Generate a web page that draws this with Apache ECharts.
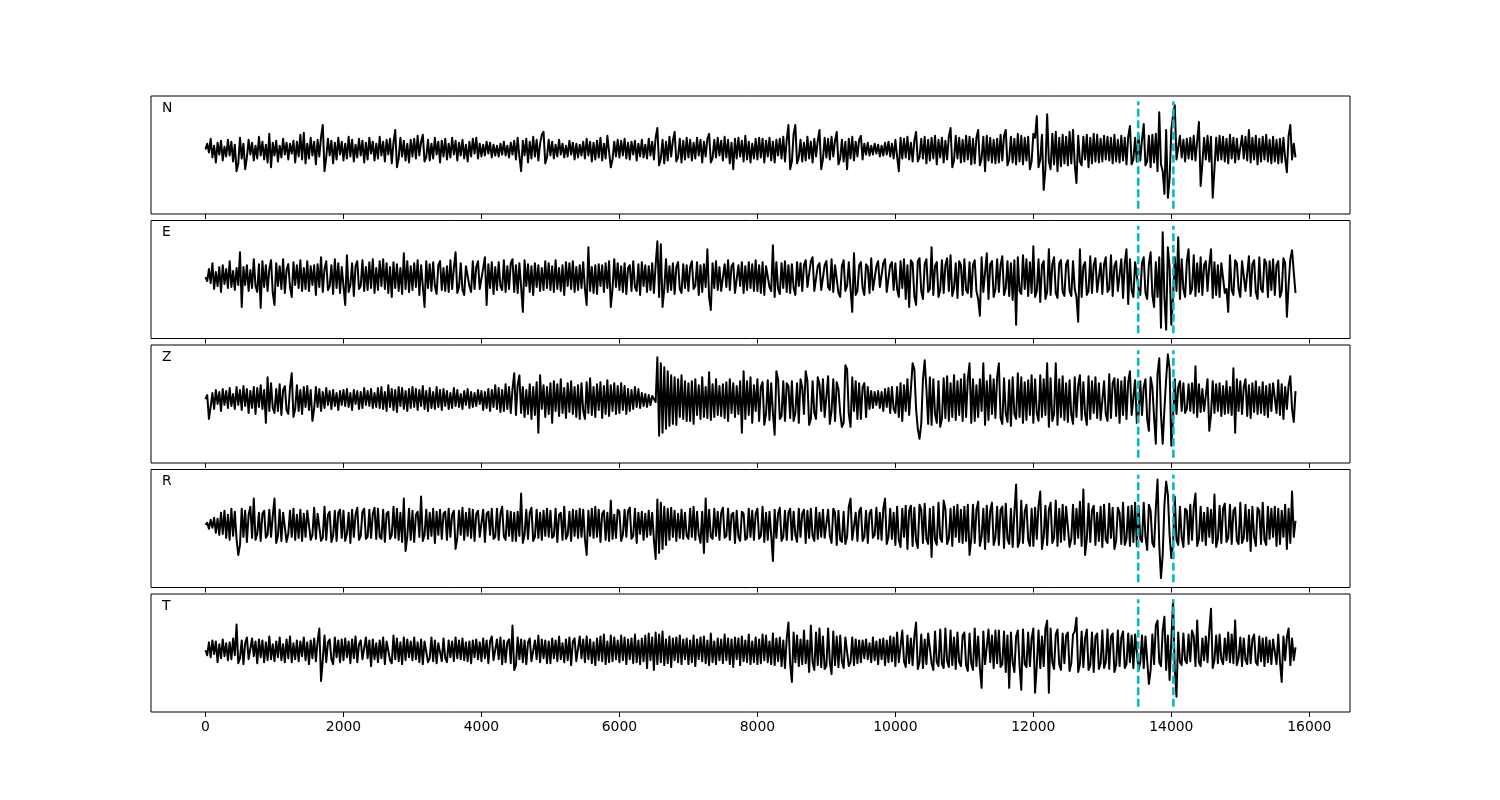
<!DOCTYPE html>
<html>
<head>
<meta charset="utf-8">
<script src="https://cdn.jsdelivr.net/npm/echarts@6/dist/echarts.min.js"></script>
<style>
html,body{margin:0;padding:0;background:#fff;}
#chart{width:1500px;height:800px;}
</style>
</head>
<body>
<div id="chart"></div>
<script>
// sample spacing of the traces (x units)
const STEP = 25;
const components = ['N', 'E', 'Z', 'R', 'T'];
const pickTimes = [13520, 14030];
const xTicks = [0, 2000, 4000, 6000, 8000, 10000, 12000, 14000, 16000];
// vertical extent of pick lines per component (trace units)
const pickHi = [49, 51.5, 49, 49.6, 51.5];
const pickLo = [-60, -56.4, -59, -57, -57];

const traceN = [
0,6,-3,11,-8,4,-13,7,-5,9,-11,3,-7,10,-6,8,-12,5,-22,-14,
12,-9,6,-20,-8,10,-5,7,-11,4,-9,13,-6,8,-10,5,-13,16,-18,7,
-6,9,-12,4,-8,11,-5,7,-10,6,-4,9,-13,8,-7,15,-10,17,-14,6,
-9,12,-6,8,-15,10,-7,13,25,-22,-8,11,-6,9,-14,7,-10,12,-5,8,
-11,6,-9,13,-7,10,-12,5,-8,11,-6,9,-13,7,-10,12,-4,8,-11,6,
-9,13,-6,8,-12,10,-5,11,-14,7,20,-18,-9,12,-7,9,-11,6,-13,10,
-7,11,-9,14,-6,8,15,-12,-8,10,-11,6,-9,12,-5,8,-13,9,-7,11,
-10,6,-8,12,-5,9,-11,7,-6,10,-9,5,-12,8,-7,11,-4,12,-9,6,
-7,5,-6,8,-4,7,-8,5,-6,4,-7,6,-5,8,-6,4,-8,7,-5,9,
-10,12,-7,-22,9,-6,11,-13,8,-9,13,-7,10,-11,6,15,18,-14,-8,10,
-6,8,-9,5,-7,10,-5,6,-8,4,-7,9,-5,7,-10,6,-8,5,-6,8,
-9,11,-6,8,-12,7,-10,9,-8,12,-11,6,-9,14,14,-18,-10,8,-7,10,
-8,9,-6,11,-9,7,-10,8,-5,9,-11,6,-7,10,-8,5,-9,11,-6,8,
-10,12,22,-16,-9,10,-14,8,-11,13,-7,9,18,-12,-8,11,-13,9,-10,12,
-8,10,-11,7,-9,12,-6,10,-13,8,-7,11,16,-13,-9,10,-8,12,-6,9,
-11,13,-8,10,-14,7,-20,11,-9,12,-7,9,-12,14,-10,8,-13,6,-9,11,
-10,12,-8,11,-13,9,-7,12,-11,8,-13,10,-6,11,-9,13,-12,10,25,-20,
-12,16,25,-14,-8,10,-12,7,-11,13,-9,8,-13,11,-7,9,20,-20,-10,12,
-8,11,-10,13,-7,9,18,-15,-9,10,-12,8,-20,11,-9,13,-11,8,-7,10,
14,-10,6,-5,7,-6,4,-5,6,-4,5,-7,4,-6,7,-5,8,-7,6,-9,
10,-7,-22,12,-9,11,-8,13,-10,7,-12,9,18,-12,-8,11,-9,13,-14,10,
-11,12,-9,14,-15,10,-8,12,-13,9,-10,13,22,-18,-11,14,-9,12,-13,10,
-12,14,-10,13,-15,11,-14,12,20,-16,-9,13,-22,14,-11,12,-13,10,-14,11,
-13,15,-11,14,20,-16,-10,13,-13,11,-15,16,-12,14,-15,12,-11,13,-20,-12,
16,12,34,-18,-10,15,-41,-20,36,-12,-20,16,-15,18,-22,12,-17,15,-14,13,
-16,18,-14,20,-15,-34,14,-12,-16,13,-10,15,-18,12,-14,16,-12,15,-13,11,
-12,14,-10,13,-11,12,-14,15,-12,10,-13,14,-11,12,-15,13,24,-15,-10,12,
-12,14,-11,10,26,-16,-12,14,-18,15,-13,16,-22,38,-15,-22,-45,20,-49,-30,
20,35,45,-10,-12,14,-8,10,-12,11,-9,12,-10,14,-11,9,28,-37,-14,12,
-10,14,-12,13,-49,-20,12,-11,14,-10,13,-12,11,-14,15,-9,12,-13,11,-10,
-12,14,-9,13,-11,20,-13,12,-10,14,-15,11,-12,13,-10,15,-12,10,-14,13,
-12,10,-14,11,-13,12,-9,-23,14,25,-10,6,-8
];

const traceE = [
0,-4,8,-6,14,-12,5,-9,10,-15,12,-7,8,-11,16,-10,6,-13,9,-8,
25,-30,10,-8,12,-14,7,-11,18,-9,-15,13,-31,16,-10,12,-14,8,17,-16,
-28,14,-9,11,-12,18,-16,7,13,-10,-20,15,-8,12,-11,17,-14,9,-12,16,
-14,11,-8,12,-18,13,-10,20,-15,8,16,-13,-9,12,-17,18,-11,14,-16,10,
12,-28,22,-15,-8,14,-19,11,16,-12,-9,17,-14,10,-13,15,-11,18,-16,9,
-13,16,-9,18,-12,14,-16,10,-20,15,-11,13,-14,9,-17,24,-12,16,-15,11,
-13,14,-10,17,-18,12,-9,-30,16,-11,13,-14,15,-9,-17,12,16,-13,9,-14,
11,-15,17,-12,9,25,-16,-10,14,-13,-18,11,13,-9,-15,16,-12,10,16,-12,
-14,9,20,-28,13,-11,15,-17,10,-13,15,-9,-13,17,-15,11,-12,14,18,-15,
12,-16,14,-10,-35,17,-9,13,-15,11,-18,14,-10,12,-14,9,-13,16,-11,14,
-13,11,-15,17,-12,9,-14,12,-18,15,-9,14,-12,16,-15,10,-13,12,-11,15,
-12,-28,30,-14,10,-16,12,-17,13,-9,12,-15,14,-11,16,-30,-12,18,-10,14,
-13,11,-15,14,-17,9,12,-14,16,-10,-14,13,-18,15,-9,12,-15,11,-13,14,
-16,12,36,-20,33,-30,-12,18,-15,11,-13,14,-17,10,15,-12,-16,13,-11,12,
-14,10,16,-12,-9,15,-18,12,-15,13,-10,28,-20,-33,14,-11,16,-13,10,-14,
-15,13,-10,17,-13,11,14,-16,-18,12,-9,15,-16,11,-13,15,-11,13,-14,17,
-14,12,-16,15,-18,11,13,-10,-14,32,-20,15,-12,-17,14,-11,16,-15,12,-16,
13,-11,-18,15,-9,14,-14,12,17,-10,-12,16,20,-14,-16,11,14,-13,-15,12,
16,-10,-13,18,-15,12,14,-16,-20,11,17,-14,-9,15,-12,-35,24,-18,-14,12,
15,-11,-18,13,10,-16,19,-13,-14,11,16,-10,-12,14,18,-15,-17,12,15,-13,
14,-12,-20,16,-11,18,-22,12,-30,17,14,-19,-28,16,19,-14,-22,13,18,-15,
-12,30,-18,11,15,-20,-13,17,-16,12,19,-14,22,-19,-11,14,-21,16,12,-18,
18,-13,-16,15,-20,12,17,-14,-22,-39,20,-15,-17,24,-22,13,16,-20,-12,18,
-15,12,21,-18,-11,16,-19,14,-23,17,-48,20,-14,-17,22,-12,18,-19,15,-16,
31,-20,-14,18,-25,12,16,-22,-15,28,-18,13,20,-16,-21,14,17,-15,-19,13,
17,-14,-19,16,-12,-20,-45,28,-20,11,15,-18,-14,21,-16,12,19,-15,-17,14,
-17,13,20,-15,-12,22,-19,11,16,-14,-13,18,-21,14,28,-27,18,-13,-20,15,
15,-12,-18,14,20,-16,-22,13,25,-18,-30,15,-20,20,-51,45,-20,-53,30,10,
-48,-20,20,-14,40,-22,18,-12,-20,16,28,-17,-12,22,-19,14,-15,20,-18,12,
16,-14,12,28,-21,15,-18,12,-20,14,15,-16,-12,-35,22,-13,-18,17,14,-12,
-20,16,18,-14,-16,21,-19,13,17,-15,-22,20,-12,-15,18,14,-20,16,-13,18,
-18,12,16,-20,-14,19,14,-40,-8,18,27,5,-16
];

const traceZ = [
0,4,-20,-8,6,-10,9,-5,7,-12,10,-6,8,-9,11,-7,5,-10,12,-6,
9,-11,13,-7,10,-14,8,-9,12,-15,11,-8,14,-10,9,-24,22,-12,16,-9,
-14,10,-12,15,-16,9,13,-11,-15,12,26,-18,-10,14,-12,9,-15,12,-8,13,
-11,9,-22,-10,12,-8,10,-12,7,-9,11,-6,8,-10,9,-7,6,-11,8,-6,
9,-7,10,-8,6,-11,9,-5,8,-10,7,-9,11,-6,8,-7,10,-9,6,-8,
11,-9,12,-10,7,-12,14,-8,10,-11,9,-13,12,-7,11,-10,8,-12,10,-9,
12,-8,10,-11,9,-7,13,-10,8,-12,11,-9,7,-10,12,-8,9,-11,10,-7,
8,-10,6,-9,11,-7,9,-8,5,-10,8,-6,10,-9,7,-8,6,-7,9,-5,
8,-11,7,-9,10,-12,9,-8,14,-10,11,-13,9,-12,15,-10,12,-14,10,26,
-16,14,24,-14,12,-18,9,-15,15,-20,12,-16,17,-34,24,-10,14,-18,12,-15,
16,-24,18,-12,15,-17,20,-14,11,-19,16,-13,18,-15,12,-18,14,-20,16,-12,
-20,17,-14,21,-16,12,-18,15,-11,17,-19,13,-15,19,-17,14,-12,16,-15,13,
-14,16,-11,13,-15,10,-12,9,-10,12,-8,10,-9,6,-7,5,-8,4,-6,3,
4,-3,42,-37,36,-34,32,-30,28,-27,24,-25,22,-26,20,-18,24,-20,18,-22,
16,-22,18,-25,20,-16,14,-20,22,-18,12,-19,27,-21,15,-18,20,-16,13,-17,
15,-19,17,-22,20,-14,16,-18,13,-15,18,-34,28,-20,18,-16,22,-24,14,-12,
20,-22,12,17,-26,-15,19,-21,16,-14,-36,28,20,-20,-17,18,-22,16,13,-19,
18,-22,-14,16,-24,20,12,-15,28,18,-26,-20,18,-14,-20,22,15,-12,20,-18,
-18,23,-25,-12,20,-22,17,10,-14,-28,-24,34,30,-15,-28,22,-12,18,-20,16,
-20,12,16,-18,12,-10,8,-9,7,-6,8,-9,7,-12,10,-8,11,-14,12,-10,
-14,12,-18,16,-22,14,-12,20,-16,10,36,30,-10,-30,-40,-25,20,39,10,-25,
22,-26,20,-15,-24,18,-28,-20,21,-19,23,-22,16,-18,24,-21,18,-16,20,-22,
25,-18,20,36,-24,20,-22,14,-18,20,-12,36,-26,18,-21,24,-15,20,-19,22,
36,-19,-25,21,-14,-23,19,-27,22,-15,-20,26,-18,22,-24,17,-21,19,-16,24,
-24,20,-14,-22,24,-18,20,-16,36,-28,21,-22,-15,36,-26,20,-18,23,-21,16,
-23,19,-16,-25,22,-18,14,24,-21,17,-15,-26,23,-20,18,-14,22,-19,16,-21,
-20,18,-15,-22,25,-19,16,21,-17,20,-24,18,-16,22,-20,17,28,-16,-14,19,
-24,-16,18,-16,12,20,-20,-32,22,12,-18,-45,25,41,-15,-45,-10,20,45,30,
-47,-20,20,-15,12,18,-12,16,-14,-10,15,-12,16,-14,33,-18,15,-13,10,-12,
-13,20,-32,-16,18,-14,15,-12,16,-17,13,-15,18,-14,12,-16,31,-34,20,-12,
18,-15,12,20,-17,14,-19,16,-13,18,-15,12,-14,17,-16,13,-18,15,-12,16,
17,-14,19,-16,15,-20,12,-10,14,23,-10,-23,8
];

const traceR = [
0,2,-4,5,-3,7,-8,6,-10,12,-9,14,-13,10,-15,16,-11,13,-14,-30,
-20,16,-12,14,-17,10,18,-13,26,-15,-9,12,-16,11,14,-13,-10,15,-12,9,
26,-18,-11,15,-16,12,13,-17,-9,14,-12,16,-15,10,-13,15,-16,11,-12,14,
13,-15,-10,17,-14,11,12,-16,-13,18,-15,10,13,-17,-11,14,-16,12,15,-13,
14,-16,-9,12,-18,15,-12,10,17,-15,-11,13,16,-14,-12,15,-13,11,17,-14,
16,-12,-14,15,-17,11,13,-14,-10,18,-13,16,-15,12,-17,26,-26,-12,16,-15,
14,-17,10,13,-12,28,-16,-10,15,-14,12,-11,16,-18,13,-10,15,-14,11,13,
-15,16,-12,10,14,-24,-13,14,-10,17,-15,12,-11,16,-13,15,-16,11,14,-12,
-13,15,-17,11,13,-10,16,-14,-12,16,-15,11,18,-12,-15,14,-11,13,-16,12,
-16,13,-11,31,-18,-10,15,-14,12,17,-16,-12,15,-13,12,-15,14,-11,16,-12,
14,-13,-11,16,-17,10,12,-15,18,-14,-10,13,-16,15,-11,14,-13,16,-12,15,
-14,-30,14,-11,16,-13,18,-12,15,-17,11,14,-15,12,-16,24,-14,10,-13,15,
13,-16,-10,15,-12,14,17,-14,-11,16,-18,12,-9,13,-15,11,-12,14,-10,12,
-15,-34,25,-28,22,-24,18,-20,16,-15,17,-12,14,-16,11,-13,15,-14,12,-11,
-14,16,-12,18,-15,13,-10,-18,13,-28,26,-17,15,-12,-14,16,-11,13,-15,12,
17,-13,-11,16,-15,10,12,-18,14,-12,-16,13,11,-15,-13,16,-12,14,-15,11,
16,-14,-11,18,-17,12,-15,13,-10,-36,15,-13,11,17,-16,-12,14,-15,12,16,
-15,13,-10,-17,16,-12,11,15,-18,14,-13,16,-11,-16,17,-14,12,-12,15,-13,
-13,15,-11,-18,16,12,-20,14,-15,-17,13,-19,-12,18,26,-15,-14,12,-16,13,
17,-16,-12,14,-18,11,15,-13,-10,17,-14,12,-15,16,26,-19,-12,16,-14,12,
-20,18,-15,-22,16,-12,19,-24,14,19,-21,17,-16,-23,20,15,-18,21,-14,-19,
16,-32,18,-15,-20,22,-13,-17,24,16,-19,-14,16,-21,18,-12,20,-17,15,-18,
18,-16,20,-30,-14,20,-18,15,23,-21,-12,16,-24,19,-17,14,22,-20,-13,18,
-20,15,18,-23,21,-14,-19,16,-22,12,40,-22,-16,24,-18,13,20,-15,-21,16,
-21,17,-14,19,33,-24,-12,19,-20,15,22,-18,-13,24,-21,16,-17,20,-15,18,
18,-22,-14,20,-19,16,-13,23,-21,35,-30,-14,21,-17,14,19,-20,12,-16,18,
-22,20,-15,-18,21,-13,17,-24,-16,17,12,-19,22,-20,-14,18,-21,19,-17,22,
-21,19,-14,-17,22,-12,-25,20,14,-18,-22,16,45,-20,-53,-30,20,43,30,-10,
-33,-20,28,-15,-20,18,-12,-22,16,14,-19,20,-15,18,31,-21,-14,18,-16,12,
-20,17,-12,15,-18,30,-22,-14,19,-18,16,21,-17,-13,20,-19,14,17,-16,-19,
22,-18,-13,20,-16,15,-26,18,-12,-21,17,14,-19,22,-15,-20,18,-14,16,-12,
18,-21,16,-19,14,-12,20,-24,16,-18,33,-12,4
];

const traceT = [
0,-5,8,-7,10,-4,9,-12,6,-8,11,-6,7,-10,8,-9,12,-5,26,-13,
-8,10,-14,7,13,-9,-11,12,-6,9,-13,11,-7,10,-12,8,-10,14,-9,6,
-11,9,-7,13,-10,6,-12,11,-8,14,-12,7,-9,10,-11,9,-6,13,-10,8,
-14,10,-8,12,-11,9,22,-31,-10,15,-12,8,11,-9,-14,13,-7,10,-12,11,
-10,12,-7,9,-13,11,-8,14,-12,6,10,-9,-11,13,-8,10,-16,11,-9,7,
-12,10,-8,13,-14,9,11,-10,-13,15,-9,12,-11,8,-14,13,-10,11,-7,9,
-10,13,-9,8,-12,11,-14,9,10,-12,-8,13,-11,10,-13,7,9,-11,12,-8,
-12,10,-7,9,-11,13,-8,10,-9,12,-10,8,-11,9,-13,10,-7,11,-9,8,
-11,12,-8,10,-13,9,14,-10,-12,11,-9,13,-14,10,-12,8,11,-13,25,-20,
-15,13,-9,11,-12,10,-14,8,12,-11,-13,10,-9,15,-12,11,-8,10,-13,9,
-13,12,-8,10,-11,14,-9,7,-12,11,-10,13,-15,9,12,-11,-10,14,-8,11,
-12,14,-9,11,-13,8,-15,12,-10,14,-11,16,-14,9,-12,15,-11,13,-9,10,
-12,15,-10,13,-14,11,-9,12,-13,16,-12,10,-14,12,-11,15,-18,17,-10,13,
-20,18,-14,16,-12,19,-15,11,-13,14,-17,12,-10,13,-12,15,-14,11,-9,12,
-14,10,-12,15,-16,11,-9,13,-11,14,-13,10,-15,17,-12,9,-14,12,-10,11,
-13,16,-10,12,-14,11,-17,13,-9,12,-15,14,-11,10,-12,16,-14,9,-12,13,
-14,11,-13,16,-10,15,-12,9,-14,17,-15,12,-11,13,-16,10,-18,12,28,-14,
-32,18,-12,15,-16,11,-14,20,-13,10,-22,25,-12,-20,18,-15,22,-17,14,-19,
-16,22,-12,-24,19,-15,14,-17,15,-11,-18,13,14,-16,-12,13,-15,11,-13,10,
-12,10,-8,11,-9,7,-12,13,-10,9,-14,11,-9,12,-15,10,-12,14,-11,13,
-16,18,-12,-14,20,-11,-17,15,-13,12,-15,14,28,-19,-12,16,-18,11,-14,17,
17,-13,-20,19,-12,-16,21,-14,-18,22,-11,-17,20,-15,13,-19,18,-12,-16,15,
18,-15,-21,17,-13,-20,22,-16,14,-18,-38,19,-14,-16,21,-12,15,-18,20,-13,
20,-17,-14,19,-22,15,-38,18,-12,-22,14,20,-15,-40,21,-14,-17,18,-16,12,
22,-43,-15,20,-18,14,-16,22,30,-43,22,-12,-19,16,21,-14,-20,17,-13,15,
18,-21,-13,16,19,33,-22,-14,19,-17,12,21,-20,-15,18,-22,14,17,-19,-13,
20,-18,-12,21,-19,14,17,-22,-15,20,-16,13,19,-18,-14,17,-12,15,-18,16,
17,-20,-12,15,-18,14,-10,-34,-20,16,-14,25,30,-12,-16,20,34,-20,15,-30,
10,50,-20,-47,18,-12,-15,17,-10,-13,16,-11,20,14,-16,30,-12,-16,12,-10,
14,-12,20,42,-18,-10,15,-13,16,-9,-14,12,-10,18,-12,16,-13,30,-15,-8,
13,-16,12,-10,-14,15,-13,11,16,-12,-15,14,-11,12,-16,13,-12,10,-14,11,
12,-14,16,-12,-32,14,-10,13,22,-15,12,-10,3
];

const traces = [traceN, traceE, traceZ, traceR, traceT];

const chart = echarts.init(document.getElementById('chart'), null, {renderer: 'canvas'});

const PANEL_TOP = 96, PANEL_STEP = 124.5, PANEL_H = 118, LEFT = 151, WIDTH = 1199;
const X_MIN = -790, X_MAX = 16590;

const grids = [], xAxes = [], yAxes = [], series = [], graphics = [];
traces.forEach((tr, i) => {
  const last = i === traces.length - 1;
  grids.push({
    left: LEFT, top: PANEL_TOP + i * PANEL_STEP, width: WIDTH, height: PANEL_H,
    show: true, borderColor: '#000', borderWidth: 1, backgroundColor: 'transparent'
  });
  xAxes.push({
    type: 'value', gridIndex: i, min: X_MIN, max: X_MAX, position: 'bottom',
    axisLine: {show: false, onZero: false},
    splitLine: {show: false},
    axisTick: {show: true, inside: false, length: 5, lineStyle: {color: '#000', width: 1}, customValues: xTicks},
    axisLabel: {show: last, customValues: xTicks, color: '#000', fontSize: 13.9,
      fontFamily: 'DejaVu Sans', margin: 8, formatter: v => String(v)}
  });
  const r = pickHi[i] - pickLo[i];
  yAxes.push({
    type: 'value', gridIndex: i, min: pickLo[i] - 0.05 * r, max: pickHi[i] + 0.05 * r,
    axisLine: {show: false}, axisTick: {show: false}, axisLabel: {show: false}, splitLine: {show: false}
  });
  series.push({
    type: 'line', xAxisIndex: i, yAxisIndex: i,
    data: tr.map((v, k) => [k * STEP, v]),
    showSymbol: false, symbol: 'none', silent: true,
    lineStyle: {color: '#000', width: 2, join: 'round'},
    z: 2
  });
  pickTimes.forEach(t => {
    series.push({
      type: 'line', xAxisIndex: i, yAxisIndex: i,
      data: [[t, pickLo[i]], [t, pickHi[i]]],
      showSymbol: false, symbol: 'none', silent: true,
      lineStyle: {color: '#00bfbf', width: 2.6, type: [8, 3.5]},
      z: 3
    });
  });
  graphics.push({
    type: 'text', left: 162, top: PANEL_TOP + i * PANEL_STEP + 5,
    style: {text: components[i], fill: '#000', font: '13.9px "DejaVu Sans"'}
  });
});

chart.setOption({
  animation: false,
  backgroundColor: '#fff',
  grid: grids, xAxis: xAxes, yAxis: yAxes, series: series,
  graphic: graphics
});
</script>
</body>
</html>
